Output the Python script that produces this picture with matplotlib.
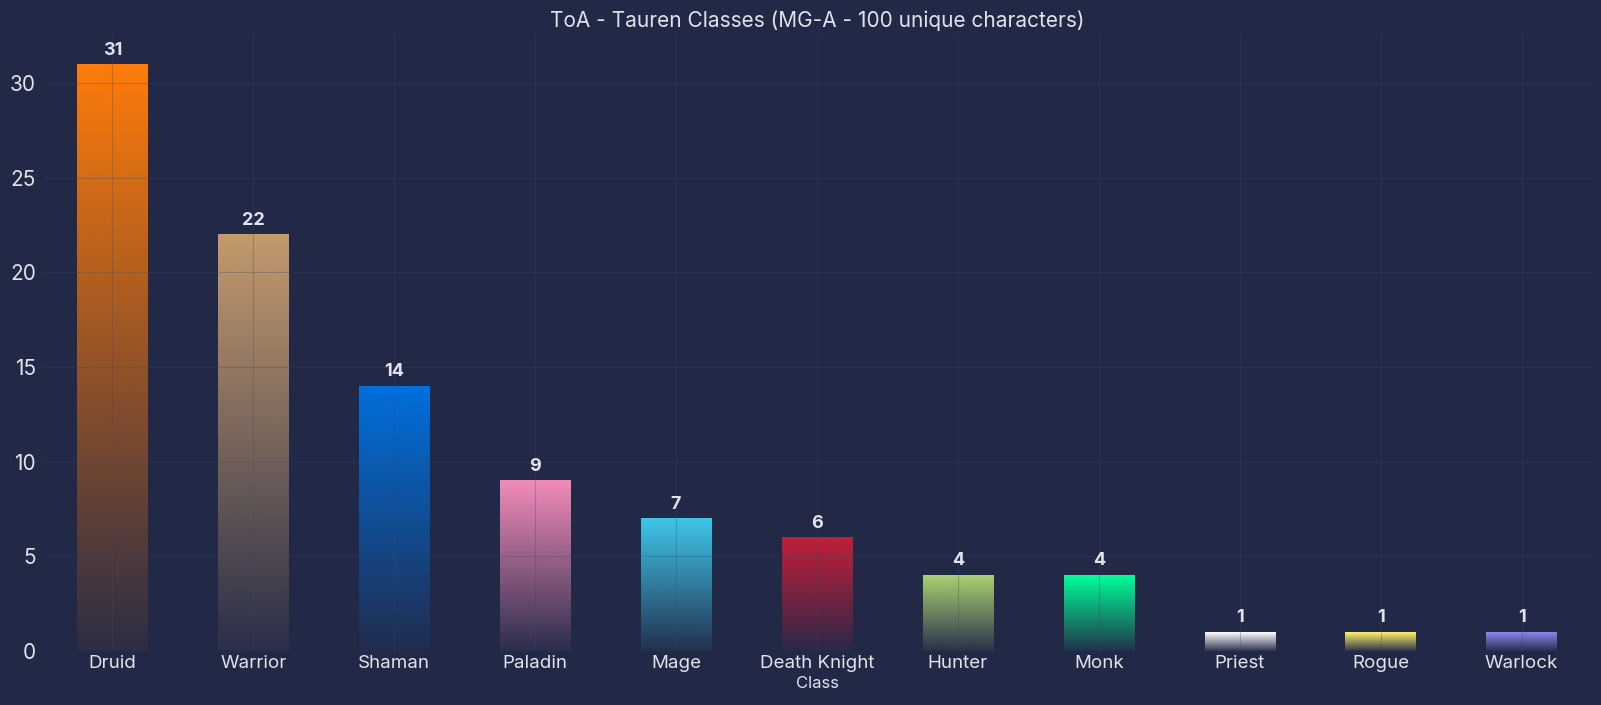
import numpy as np
import matplotlib
matplotlib.use('Agg')
from matplotlib import pyplot as plt
from matplotlib.colors import to_rgb

classes = ['Druid', 'Warrior', 'Shaman', 'Paladin', 'Mage', 'Death Knight',
           'Hunter', 'Monk', 'Priest', 'Rogue', 'Warlock']
counts = [31, 22, 14, 9, 7, 6, 4, 4, 1, 1, 1]
class_colors = ['#FF7C0A', '#C69B6D', '#0070DD', '#F48CBA', '#3FC7EB', '#C41E3A',
                '#AAD372', '#00FF98', '#FFFFFF', '#FFF468', '#8788EE']

bg = '#222947'
txt = '#e2e2ea'
plt.rcParams['font.family'] = ['Inter', 'DejaVu Sans']

fig = plt.figure(figsize=(16.01, 7.05), dpi=100, facecolor=bg)
ax = fig.add_axes([0.0267, 0.077, 0.9677, 0.8733])
ax.set_facecolor(bg)

width = 0.5
for i in range(len(classes)):
    h = counts[i]
    r, g, b = to_rgb(class_colors[i])
    n = 256
    alpha = np.linspace(1.0, 0.05, n)
    img = np.zeros((n, 1, 4))
    img[:, 0, 0] = r
    img[:, 0, 1] = g
    img[:, 0, 2] = b
    img[:, 0, 3] = alpha
    ax.imshow(img, extent=(i - width / 2, i + width / 2, 0, h),
              aspect='auto', interpolation='bilinear', zorder=2)
    ax.text(i, h + 0.3, str(h), ha='center', va='bottom', color=txt,
            fontsize=13, fontweight='bold', zorder=4)

ax.set_xlim(-0.494, len(classes) - 0.5)
ax.set_ylim(0, max(counts) * 1.05)
ax.set_xticks(range(len(classes)))
ax.set_xticklabels(classes)
ax.set_yticks([0, 5, 10, 15, 20, 25, 30])
ax.tick_params(colors=txt, labelsize=13.5, length=0, pad=3)
ax.tick_params(axis='y', pad=5, labelsize=15)
ax.grid(True, color='#3a4a78', alpha=0.3, linewidth=0.8, zorder=3)
ax.set_axisbelow(False)
for s in ax.spines.values():
    s.set_visible(False)

ax.set_xlabel('Class', color=txt, fontsize=12, labelpad=3)
ax.set_title('ToA - Tauren Classes (MG-A - 100 unique characters)', color=txt,
             fontsize=15, pad=6)

fig.savefig('out.png', dpi=100, facecolor=bg)
